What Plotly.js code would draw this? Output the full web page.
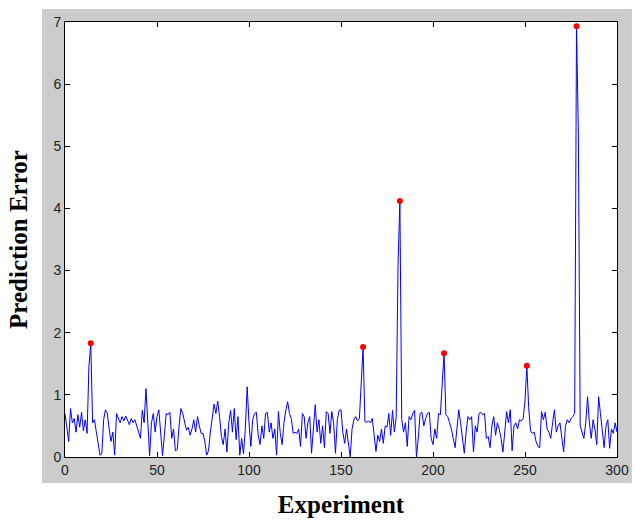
<!DOCTYPE html>
<html>
<head>
<meta charset="utf-8">
<script src="https://cdn.plot.ly/plotly-3.0.1.min.js"></script>
<style>html,body{margin:0;padding:0;background:#fff;}#chart{width:634px;height:520px;}</style>
</head>
<body>
<div id="chart"></div>
<script>
var errors = [
  0.70, 0.45, 0.25, 0.78, 0.55, 0.62, 0.40, 0.68, 0.48, 0.72,
  0.42, 0.60, 0.38, 1.45, 1.83, 0.55, 0.60, 0.41, 0.25, 0.03,
  0.05, 0.60, 0.76, 0.70, 0.45, 0.25, 0.40, 0.03, 0.70, 0.62,
  0.55, 0.65, 0.58, 0.66, 0.60, 0.52, 0.62, 0.55, 0.60, 0.50,
  0.40, 0.30, 0.75, 0.55, 1.10, 0.60, 0.02, 0.55, 0.70, 0.40,
  0.65, 0.76, 0.30, 0.02, 0.35, 0.70, 0.68, 0.72, 0.30, 0.45,
  0.10, 0.12, 0.50, 0.78, 0.70, 0.55, 0.43, 0.48, 0.35, 0.45,
  0.60, 0.40, 0.65, 0.50, 0.38, 0.38, 0.25, 0.03, 0.10, 0.40,
  0.65, 0.85, 0.70, 0.90, 0.65, 0.33, 0.20, 0.45, 0.08, 0.55,
  0.75, 0.40, 0.78, 0.28, 0.65, 0.03, 0.30, 0.05, 0.45, 1.13,
  0.55, 0.17, 0.60, 0.70, 0.72, 0.35, 0.20, 0.50, 0.30, 0.70,
  0.72, 0.40, 0.55, 0.30, 0.45, 0.03, 0.73, 0.38, 0.20, 0.55,
  0.75, 0.89, 0.70, 0.62, 0.38, 0.40, 0.38, 0.45, 0.17, 0.70,
  0.65, 0.30, 0.55, 0.65, 0.06, 0.55, 0.84, 0.40, 0.60, 0.22,
  0.50, 0.15, 0.73, 0.70, 0.38, 0.73, 0.55, 0.06, 0.60, 0.75,
  0.76, 0.40, 0.22, 0.45, 0.20, 0.00, 0.45, 0.60, 0.65, 0.58,
  0.62, 1.10, 1.77, 0.57, 0.56, 0.58, 0.55, 0.62, 0.40, 0.09,
  0.35, 0.25, 0.45, 0.22, 0.50, 0.48, 0.70, 0.35, 0.75, 0.40,
  0.65, 3.10, 4.12, 0.60, 0.40, 0.55, 0.17, 0.65, 0.60, 0.70,
  0.75, 0.00, 0.30, 0.70, 0.72, 0.50, 0.62, 0.70, 0.72, 0.30,
  0.20, 0.45, 0.30, 0.70, 0.68, 1.20, 1.67, 0.68, 0.65, 0.55,
  0.45, 0.30, 0.15, 0.45, 0.76, 0.55, 0.30, 0.06, 0.40, 0.65,
  0.60, 0.65, 0.08, 0.50, 0.40, 0.70, 0.72, 0.68, 0.70, 0.30,
  0.33, 0.15, 0.50, 0.65, 0.35, 0.55, 0.45, 0.30, 0.08, 0.45,
  0.73, 0.55, 0.76, 0.10, 0.50, 0.55, 0.45, 0.60, 0.58, 0.62,
  0.90, 1.47, 0.80, 0.42, 0.38, 0.40, 0.25, 0.17, 0.15, 0.73,
  0.60, 0.72, 0.45, 0.40, 0.30, 0.55, 0.76, 0.40, 0.50, 0.55,
  0.35, 0.08, 0.50, 0.60, 0.55, 0.62, 0.65, 0.70, 6.93, 5.20,
  0.50, 0.40, 0.30, 0.55, 0.97, 0.55, 0.30, 0.60, 0.45, 0.20,
  0.97, 0.70, 0.40, 0.15, 0.50, 0.60, 0.14, 0.45, 0.38, 0.55,
  0.40
];
var experiments = errors.map(function(_, i){ return i; });
var peakExperiments = [14, 162, 182, 206, 251, 278];
var peakErrors = [1.83, 1.77, 4.12, 1.67, 1.47, 6.93];
var xTicks = [0, 50, 100, 150, 200, 250, 300];
var yTicks = [0, 1, 2, 3, 4, 5, 6, 7];

var traces = [
  {x: experiments, y: errors, type: 'scatter', mode: 'lines',
   line: {color: '#0000ff', width: 1}, hoverinfo: 'skip'},
  {x: peakExperiments, y: peakErrors, type: 'scatter', mode: 'markers',
   marker: {color: '#ff0000', size: 6}, hoverinfo: 'skip'}
];

var axisCommon = {
  showgrid: false, zeroline: false, showline: true, linecolor: '#000', linewidth: 1,
  mirror: 'ticks', ticks: 'inside', ticklen: 5, tickcolor: '#000', tickwidth: 1,
  tickfont: {family: 'Liberation Sans, Arial, sans-serif', size: 14, color: '#222'}
};

var layout = {
  width: 634, height: 520,
  margin: {l: 65, r: 17, t: 22, b: 63},
  paper_bgcolor: '#ffffff',
  plot_bgcolor: '#ffffff',
  showlegend: false,
  xaxis: Object.assign({}, axisCommon, {
    range: [0, 300], tickvals: xTicks, ticktext: xTicks.map(String),
    title: {text: 'Experiment', standoff: 18,
      font: {family: 'Liberation Serif, Times New Roman, serif', size: 25, color: '#000', weight: 'bold'}}
  }),
  yaxis: Object.assign({}, axisCommon, {
    range: [0, 7], tickvals: yTicks, ticktext: yTicks.map(String),
    title: {text: 'Prediction Error', standoff: 18,
      font: {family: 'Liberation Serif, Times New Roman, serif', size: 25, color: '#000', weight: 'bold'}}
  }),
  shapes: [{
    type: 'rect', xref: 'paper', yref: 'paper', layer: 'below',
    x0: -0.0417, x1: 1.027, y0: -0.0598, y1: 1.030,
    fillcolor: '#cccccc', line: {width: 0}
  }, {
    type: 'rect', xref: 'paper', yref: 'paper', layer: 'below',
    x0: 0, x1: 1, y0: 0, y1: 1,
    fillcolor: '#ffffff', line: {width: 0}
  }]
};

Plotly.newPlot('chart', traces, layout, {displayModeBar: false, staticPlot: true});
</script>
</body>
</html>
